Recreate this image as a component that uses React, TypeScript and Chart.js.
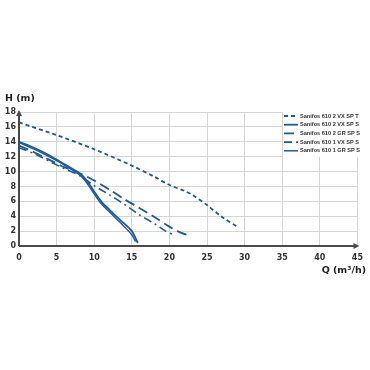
import React, { useEffect, useRef } from "react";
import { Chart, registerables } from "chart.js";

Chart.register(...registerables);

const X_TICKS = [0, 5, 10, 15, 20, 25, 30, 35, 40, 45];
const Y_TICKS = [0, 2, 4, 6, 8, 10, 12, 14, 16, 18];

const LABELS = [
  "Sanifos 610 2 VX SP T",
  "Sanifos 610 2 VX SP S",
  "Sanifos 610 2 GR SP S",
  "Sanifos 610 1 VX SP S",
  "Sanifos 610 1 GR SP S",
];

const Q_2VX_T = [0, 5, 10, 15, 18, 20, 22, 23, 25, 27, 29];
const H_2VX_T = [16.6, 14.9, 13.0, 10.8, 9.3, 8.2, 7.4, 6.9, 5.5, 3.9, 2.6];

const Q_2VX_S = [0, 2, 4, 6, 8, 9, 10, 11, 12, 13, 14, 15, 15.8];
const H_2VX_S = [14.0, 13.2, 12.2, 11.0, 9.8, 8.8, 7.3, 5.9, 4.9, 3.9, 3.0, 2.0, 0.4];

const Q_2GR_S = [0, 2, 4, 6, 8, 10, 12, 14, 16, 18, 20, 21.5, 22.7];
const H_2GR_S = [13.5, 12.6, 11.6, 10.6, 9.8, 8.8, 7.6, 6.3, 5.1, 3.9, 2.6, 1.8, 1.4];

const Q_1VX_S = [0, 2, 4, 6, 8, 10, 12, 14, 16, 18, 19.5, 20.6];
const H_1VX_S = [13.2, 12.4, 11.4, 10.4, 9.5, 8.1, 6.9, 5.6, 4.2, 3.0, 2.0, 1.5];

const Q_1GR_S = [0, 2, 4, 6, 8, 9, 10, 11, 12, 13, 14, 15, 15.5];
const H_1GR_S = [13.9, 13.0, 12.0, 10.9, 9.6, 8.5, 7.0, 5.6, 4.6, 3.6, 2.6, 1.5, 0.6];

const BLUE = "#1c5a9c";
const FONT = "'DejaVu Sans', sans-serif";

const pts = (q: number[], h: number[]) => q.map((x, i) => ({ x, y: h[i] }));

const extrasPlugin = {
  id: "extras",
  afterDraw(chart: any) {
    const { ctx, chartArea } = chart;
    const { left, right, top, bottom } = chartArea;
    ctx.save();
    ctx.strokeStyle = "#4a4a4a";
    ctx.fillStyle = "#4a4a4a";
    ctx.lineWidth = 2;
    ctx.beginPath();
    ctx.moveTo(left, bottom);
    ctx.lineTo(left, top + 2);
    ctx.moveTo(left, bottom);
    ctx.lineTo(right - 2, bottom);
    ctx.stroke();
    ctx.beginPath();
    ctx.moveTo(left, top - 2);
    ctx.lineTo(left - 3, top + 4);
    ctx.lineTo(left + 3, top + 4);
    ctx.closePath();
    ctx.fill();
    ctx.beginPath();
    ctx.moveTo(right + 2, bottom);
    ctx.lineTo(right - 4, bottom - 3);
    ctx.lineTo(right - 4, bottom + 3);
    ctx.closePath();
    ctx.fill();
    ctx.fillStyle = "#222";
    ctx.font = `bold 9.5px ${FONT}`;
    ctx.textBaseline = "middle";
    ctx.textAlign = "left";
    ctx.fillText("H (m)", 5, 99);
    ctx.textAlign = "right";
    ctx.fillText("Q (m³/h)", 366, 271);
    ctx.fillStyle = "#ffffff";
    ctx.fillRect(283, 110, 87, 47);
    ctx.font = `bold 5.6px 'Liberation Sans', Arial, sans-serif`;
    ctx.textAlign = "left";
    chart.data.datasets.forEach((ds: any, i: number) => {
      const y = 116 + i * 8.7;
      ctx.strokeStyle = ds.borderColor;
      ctx.lineWidth = Math.max(1.5, ds.borderWidth);
      ctx.setLineDash(ds.borderDash || []);
      ctx.beginPath();
      ctx.moveTo(284, y);
      ctx.lineTo(298, y);
      ctx.stroke();
      ctx.setLineDash([]);
      ctx.fillStyle = "#333";
      ctx.fillText(ds.label, 300, y);
    });
    ctx.restore();
  },
};

export default function App() {
  const ref = useRef<HTMLCanvasElement>(null);
  useEffect(() => {
    if (!ref.current) return;
    const mk = (i: number, q: number[], h: number[], w: number, dash: number[]) => ({
      label: LABELS[i],
      data: pts(q, h),
      borderColor: BLUE,
      backgroundColor: BLUE,
      borderWidth: w,
      borderDash: dash,
      pointRadius: 0,
      tension: 0.3,
      fill: false,
    });
    const chart = new Chart(ref.current, {
      type: "line",
      data: {
        datasets: [
          mk(0, Q_2VX_T, H_2VX_T, 1.8, [4, 3]),
          mk(1, Q_2VX_S, H_2VX_S, 1.8, []),
          mk(2, Q_2GR_S, H_2GR_S, 1.8, [10, 5]),
          mk(3, Q_1VX_S, H_1VX_S, 1.6, [8, 4, 2, 4]),
          mk(4, Q_1GR_S, H_1GR_S, 1.4, []),
        ],
      },
      options: {
        animation: false,
        responsive: false,
        layout: { padding: { top: 112, left: 0, right: 12, bottom: 104 } },
        plugins: { legend: { display: false }, tooltip: { enabled: false } },
        scales: {
          x: {
            type: "linear",
            min: 0,
            max: 45,
            afterBuildTicks: (s: any) => {
              s.ticks = X_TICKS.map((v) => ({ value: v }));
            },
            afterFit: (s: any) => {
              s.height = 20;
            },
            grid: { color: "#d6d6d6", lineWidth: 1, drawTicks: false },
            border: { display: false },
            ticks: { padding: 7, color: "#333", font: { family: FONT, size: 8, weight: "bold" }, maxRotation: 0 },
          },
          y: {
            min: 0,
            max: 18,
            afterBuildTicks: (s: any) => {
              s.ticks = Y_TICKS.map((v) => ({ value: v }));
            },
            afterFit: (s: any) => {
              s.width = 19;
            },
            grid: { color: "#d6d6d6", lineWidth: 1, drawTicks: false },
            border: { display: false },
            ticks: { padding: 3, color: "#333", font: { family: FONT, size: 8, weight: "bold" } },
          },
        },
      },
      plugins: [extrasPlugin],
    } as any);
    return () => chart.destroy();
  }, []);
  return (
    <div style={{ position: "absolute", left: 0, top: 0, width: 370, height: 370, background: "#fff" }}>
      <canvas ref={ref} width={370} height={370} />
    </div>
  );
}
